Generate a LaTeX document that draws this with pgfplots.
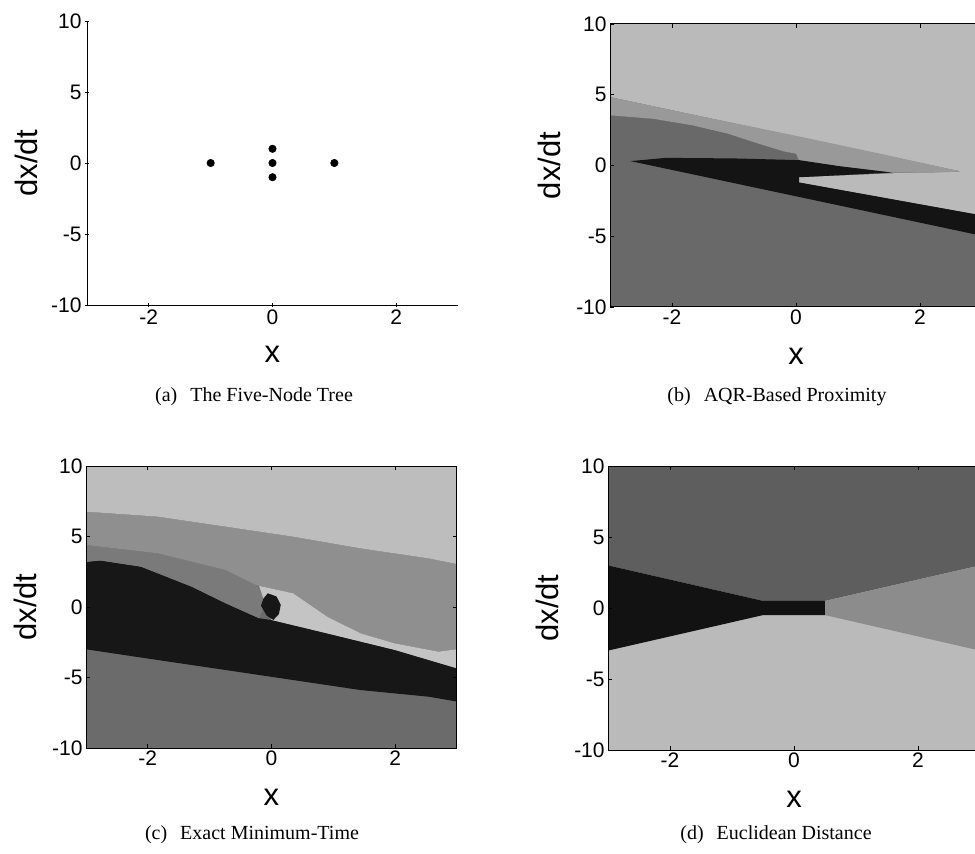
\documentclass[border=0pt]{standalone}
\usepackage{fontspec}
\setmainfont{Liberation Sans}
\newfontfamily\capfont{Liberation Serif}
\usepackage{pgfplots}
\pgfplotsset{compat=1.18}

\definecolor{bLight}{gray}{0.73}
\definecolor{bMid}{gray}{0.60}
\definecolor{bDark}{gray}{0.41}
\definecolor{bBlack}{gray}{0.08}
\definecolor{cLight}{gray}{0.74}
\definecolor{cMid}{gray}{0.56}
\definecolor{cMidDark}{gray}{0.48}
\definecolor{cBlack}{gray}{0.09}
\definecolor{cDark}{gray}{0.42}
\definecolor{cPale}{gray}{0.77}
\definecolor{dTop}{gray}{0.37}
\definecolor{dRight}{gray}{0.55}
\definecolor{dBottom}{gray}{0.73}
\definecolor{dBlack}{gray}{0.07}

\pgfplotsset{
  panel/.style={
    scale only axis,
    anchor=south west,
    xmin=-3, xmax=3, ymin=-10, ymax=10,
    xtick={-2,0,2}, ytick={-10,-5,0,5,10},
    tick align=inside,
    major tick length=2pt,
    every tick/.style={black, line width=0.4pt},
    axis line style={line width=0.5pt, black},
    tick label style={font=\fontsize{10.5}{12}\selectfont},
    label style={font=\fontsize{15.5}{18}\selectfont},
    /pgf/number format/assume math mode=true,
    yticklabel style={inner sep=0pt, xshift=-1.5pt},
    xticklabel style={inner sep=0pt, yshift=-1pt},
    xlabel={x}, ylabel={dx/dt},
    xlabel style={at={(axis description cs:0.5,-0.174)}, anchor=center, inner sep=0pt},
    ylabel style={at={(axis description cs:-0.163,0.5)}, anchor=center, inner sep=0pt},
  },
  region/.style={draw=none, mark=none, forget plot},
}

\begin{document}
\begin{tikzpicture}
\path[use as bounding box] (0pt,0pt) rectangle (487.5pt,426.5pt);
\clip (0pt,0pt) rectangle (487.5pt,426.5pt);

% ---------------- (a) The Five-Node Tree ----------------
\begin{axis}[panel, at={(43.5pt,274pt)}, width=185.5pt, height=142pt,
  axis lines=left, axis line style={-}]
  \addplot[only marks, mark=*, mark size=1.8pt, black]
    coordinates {(-1,0) (0,1) (0,0) (0,-1) (1,0)};
\end{axis}

% ---------------- (b) AQR-Based Proximity ----------------
\begin{axis}[panel, at={(305pt,273pt)}, width=186pt, height=141.5pt, axis on top]
  \addplot[region, fill=bDark] coordinates {(-3,-10) (3,-10) (3,10) (-3,10)};
  \addplot[region, fill=bLight] coordinates {
    (-3,10) (3,10) (3,-3.53) (0.05,-1.2) (0.05,-0.83) (1.55,-0.55)
    (2.66,-0.42) (-3,4.84)};
  \addplot[region, fill=bMid] coordinates {
    (-3,4.84) (-1.5,3.45) (0,2.1) (1.5,0.7) (2.66,-0.42) (2.2,-0.52)
    (1.55,-0.5) (0.7,-0.05) (0.05,0.35) (0,0.83) (-0.2,1.0) (-0.6,1.54)
    (-1.1,2.25) (-1.67,2.84) (-2.3,3.3) (-3,3.55)};
  \addplot[region, fill=bBlack] coordinates {
    (-2.67,0.31) (-2.1,0.54) (-1,0.5) (0.05,0.38) (0.7,-0.05) (1.55,-0.5)
    (0.05,-0.83) (0.05,-1.2) (3,-3.53) (3,-4.97) (-2.67,0.31)};
\end{axis}

% ---------------- (c) Exact Minimum-Time ----------------
\begin{axis}[panel, at={(43pt,52.5pt)}, width=185.5pt, height=141pt, axis on top]
  \addplot[region, fill=cDark] coordinates {(-3,-10) (3,-10) (3,10) (-3,10)};
  \addplot[region, fill=cBlack] coordinates {
    (-3,3.2) (-2.77,3.3) (-2.11,2.86) (-1.29,1.44) (-0.74,0.26) (-0.2,-0.8)
    (0,-0.92) (0.9,-1.87) (2,-3.05) (3,-4.35)
    (3,-6.71) (2.54,-6.36) (1.44,-5.89) (0.35,-5.18) (-0.74,-4.47)
    (-1.84,-3.76) (-3,-3.0)};
  \addplot[region, fill=cMidDark] coordinates {
    (-3,4.4) (-1.84,3.81) (-0.74,2.62) (-0.25,1.56) (-0.05,0.9) (-0.2,-0.8)
    (-0.74,0.26) (-1.29,1.44) (-2.11,2.86) (-2.77,3.3) (-3,3.2)};
  \addplot[region, fill=cMid] coordinates {
    (-3,6.76) (-1.84,6.41) (-0.74,5.70) (0.35,4.99) (1.44,4.16) (2.54,3.45)
    (3,3.05) (3,-3.0) (2.7,-3.17) (1.99,-2.58) (1.44,-1.87) (0.9,-0.69)
    (0.35,0.97) (-0.25,1.56) (-0.74,2.62) (-1.84,3.81) (-3,4.4)};
  \addplot[region, fill=cPale] coordinates {
    (-0.2,1.5) (0.35,0.97) (0.9,-0.69) (1.44,-1.87) (1.99,-2.58) (2.7,-3.17)
    (3,-3.0) (3,-4.35) (2,-3.05) (0.9,-1.87) (0,-0.92) (-0.1,0.2)};
  \addplot[region, fill=cLight] coordinates {
    (-3,10) (3,10) (3,3.05) (2.54,3.45) (1.44,4.16) (0.35,4.99) (-0.74,5.70)
    (-1.84,6.41) (-3,6.76)};
  \addplot[region, fill=cBlack] coordinates {
    (-0.06,0.97) (0.08,0.75) (0.15,0.15) (0.12,-0.5) (0.03,-0.92)
    (-0.08,-0.6) (-0.17,0.1) (-0.13,0.6)};
\end{axis}

% ---------------- (d) Euclidean Distance ----------------
\begin{axis}[panel, at={(304pt,51.5pt)}, width=186pt, height=142pt, axis on top]
  \addplot[region, fill=dBottom] coordinates {(-3,-10) (3,-10) (3,10) (-3,10)};
  \addplot[region, fill=dTop] coordinates {
    (-3,10) (3,10) (3,3) (0.5,0.5) (-0.5,0.5) (-3,3)};
  \addplot[region, fill=dBlack] coordinates {
    (-3,3) (-0.5,0.5) (0.5,0.5) (0.5,-0.5) (-0.5,-0.5) (-3,-3)};
  \addplot[region, fill=dRight] coordinates {
    (0.5,0.5) (3,3) (3,-3) (0.5,-0.5)};
\end{axis}

% ---------------- captions ----------------
\node[font=\capfont\fontsize{10}{12}\selectfont, anchor=center] at (127pt,228pt)
  {(a)\hspace{0.65em}The Five-Node Tree};
\node[font=\capfont\fontsize{10}{12}\selectfont, anchor=center] at (388.5pt,228pt)
  {(b)\hspace{0.65em}AQR-Based Proximity};
\node[font=\capfont\fontsize{10}{12}\selectfont, anchor=center] at (126pt,9pt)
  {(c)\hspace{0.65em}Exact Minimum-Time};
\node[font=\capfont\fontsize{10}{12}\selectfont, anchor=center] at (388pt,9pt)
  {(d)\hspace{0.65em}Euclidean Distance};
\end{tikzpicture}
\end{document}
